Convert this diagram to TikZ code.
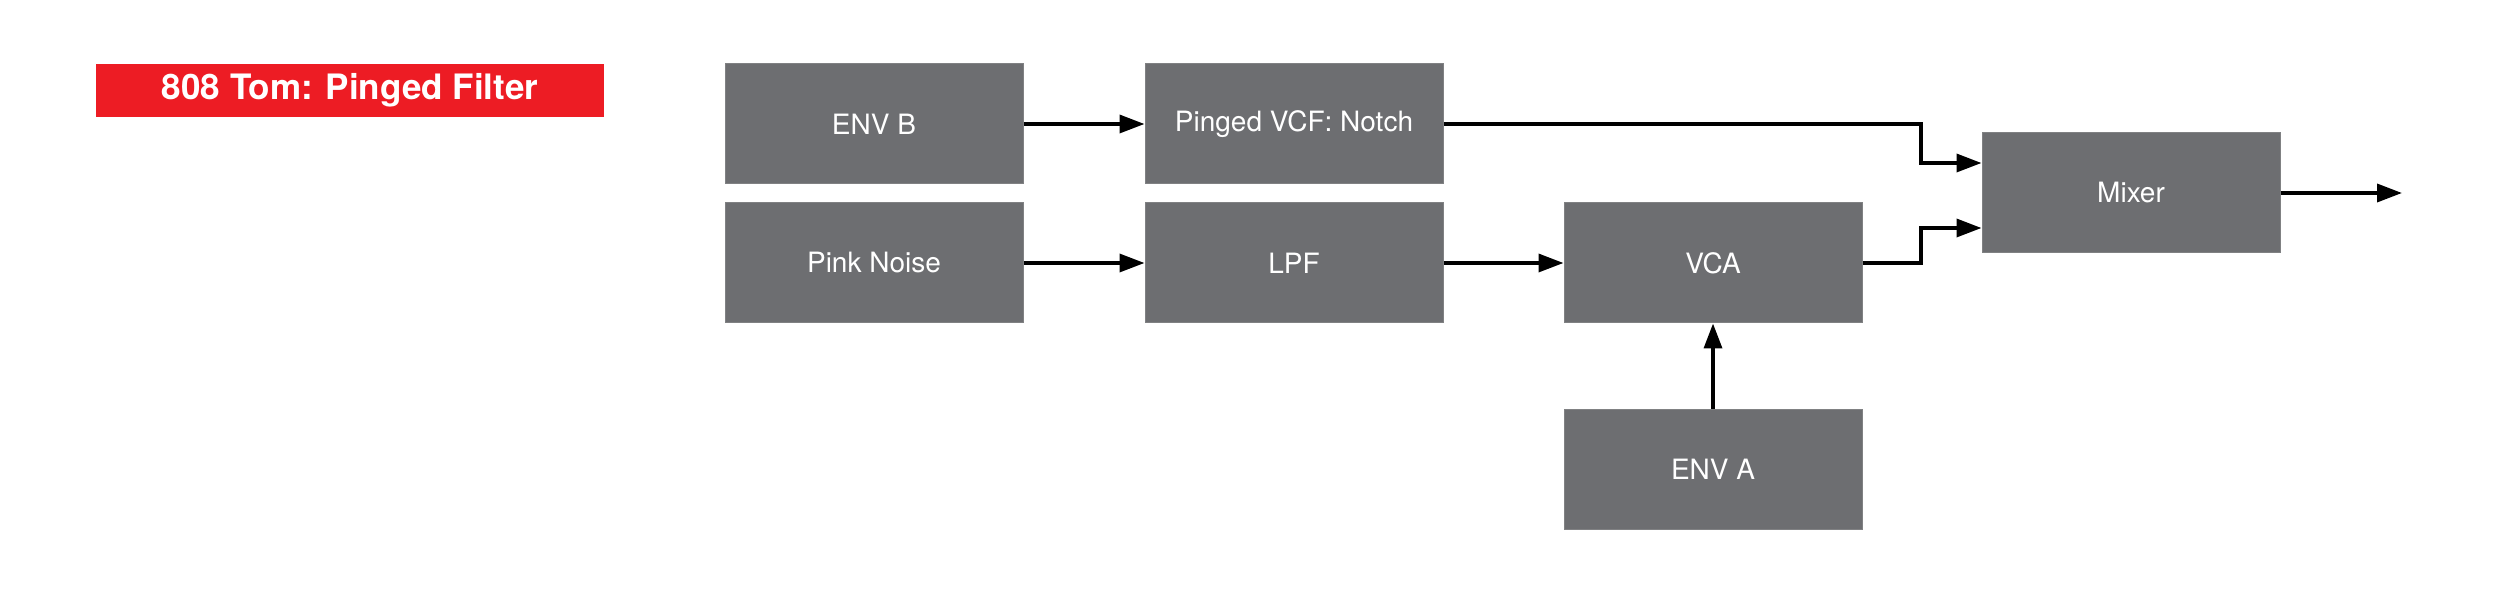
\documentclass[tikz,border=0pt]{standalone}
\usepackage{fontspec}
\setmainfont{TeX Gyre Heros}
\usetikzlibrary{arrows.meta}
\definecolor{boxgray}{RGB}{109,110,113}
\definecolor{boxedge}{RGB}{128,129,131}
\definecolor{titlered}{RGB}{237,28,36}
\tikzset{
  blockbox/.style={fill=boxgray, draw=boxedge, line width=1pt, minimum width=298pt, minimum height=120pt, inner sep=0pt, text=white, font=\fontsize{28}{32}\selectfont},
  titlebox/.style={fill=titlered, minimum width=508pt, minimum height=53pt, inner sep=0pt, text=white, font=\bfseries\fontsize{35}{38}\selectfont},
  wire/.style={line width=3.5pt, -{Triangle[length=25pt,width=18pt]}}
}
\begin{document}
\begin{tikzpicture}[x=1pt,y=-1pt]
\useasboundingbox (0,0) rectangle (2500,593);
\node[titlebox] (title) at (350,90.5) {808 Tom: Pinged Filter};
\node[blockbox] (envb) at (874,124) {ENV B};
\node[blockbox] (notch) at (1294,124) {Pinged VCF: Notch};
\node[blockbox] (pink) at (874,263) {Pink Noise};
\node[blockbox] (lpf) at (1294,263) {LPF};
\node[blockbox] (vca) at (1713,263) {VCA};
\node[blockbox] (enva) at (1713,469) {ENV A};
\node[blockbox] (mixer) at (2131,193) {Mixer};
\coordinate (out) at (2402,193);
\draw[wire] (envb.east) -- (notch.west);
\draw[wire] (pink.east) -- (lpf.west);
\draw[wire] (lpf.east) -- (vca.west);
\draw[wire] (enva.north) -- (vca.south);
\draw[wire] (notch.east) -- (1921,124) |- ([yshift=30pt]mixer.west);
\draw[wire] (vca.east) -- (1921,263) |- ([yshift=-35pt]mixer.west);
\draw[wire] (mixer.east) -- (out);
\end{tikzpicture}
\end{document}
